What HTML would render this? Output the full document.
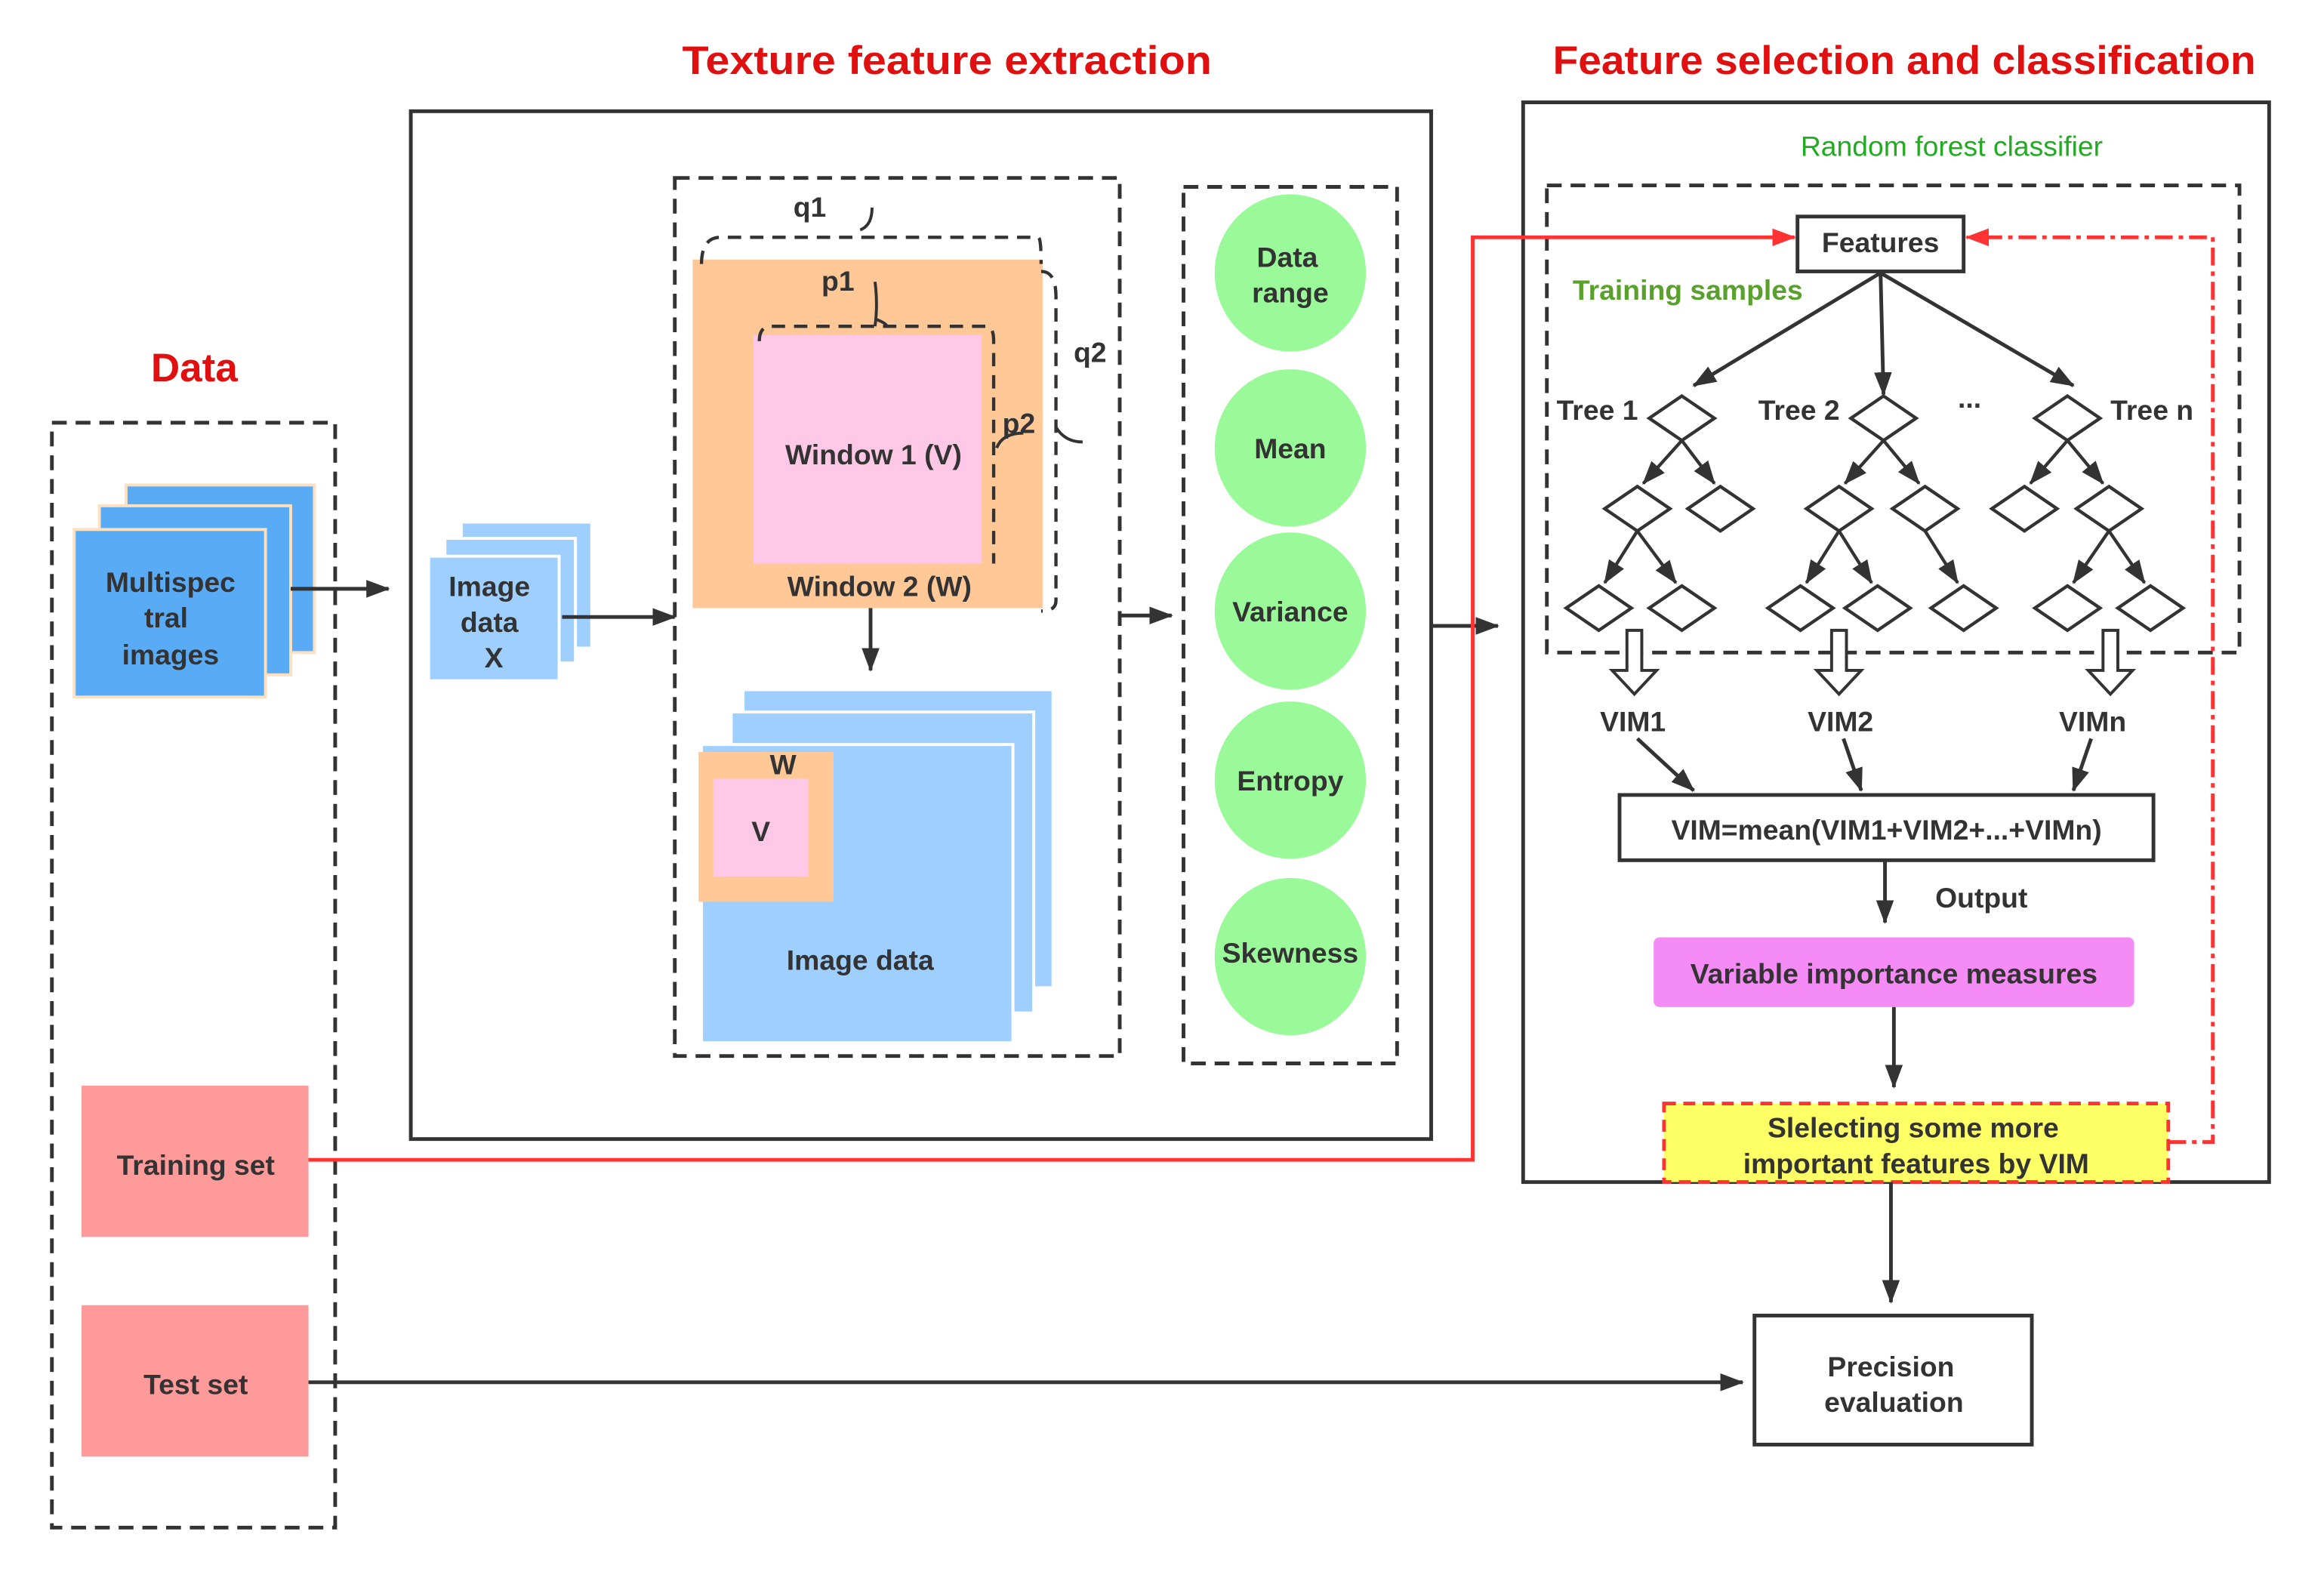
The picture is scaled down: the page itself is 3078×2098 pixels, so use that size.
<!DOCTYPE html>
<html><head><meta charset="utf-8"><style>
html,body{margin:0;padding:0;background:#fff;}
svg{display:block;}
text{font-family:"Liberation Sans","DejaVu Sans",sans-serif;}
.b{font-weight:bold;fill:#333;font-size:19px;}
</style></head><body>
<svg width="3078" height="2098" viewBox="0 0 1567 1068" preserveAspectRatio="none" xmlns="http://www.w3.org/2000/svg">
<defs>
<marker id="ar" viewBox="0 0 16 12" refX="15" refY="6" markerWidth="16" markerHeight="12" orient="auto" markerUnits="userSpaceOnUse"><path d="M0,0 L16,6 L0,12 z" fill="#333"/></marker>
<marker id="arr" viewBox="0 0 16 12" refX="15" refY="6" markerWidth="16" markerHeight="12" orient="auto" markerUnits="userSpaceOnUse"><path d="M0,0 L16,6 L0,12 z" fill="#f33"/></marker>
</defs>
<text x="460" y="50" textLength="357" lengthAdjust="spacingAndGlyphs" font-size="27" font-weight="bold" fill="#e01010">Texture feature extraction</text>
<text x="1047" y="50" textLength="474" lengthAdjust="spacingAndGlyphs" font-size="27" font-weight="bold" fill="#e01010">Feature selection and classification</text>
<text x="131" y="257" text-anchor="middle" font-size="27" font-weight="bold" fill="#e01010">Data</text>

<rect x="35" y="285" width="191" height="745" fill="none" stroke="#333" stroke-width="2.5" stroke-dasharray="10,6"/>
<rect x="85" y="327" width="127" height="113" fill="#5aabf5" stroke="#fde0c0" stroke-width="2"/>
<rect x="67" y="341" width="129" height="114" fill="#5aabf5" stroke="#fde0c0" stroke-width="2"/>
<rect x="50" y="357" width="129" height="113" fill="#5aabf5" stroke="#fde0c0" stroke-width="2"/>
<text class="b" x="115" y="399" text-anchor="middle">Multispec</text>
<text class="b" x="112" y="423" text-anchor="middle">tral</text>
<text class="b" x="115" y="448" text-anchor="middle">images</text>
<line x1="196" y1="397" x2="262" y2="397" stroke="#333" stroke-width="2.5" marker-end="url(#ar)"/>
<rect x="55" y="732" width="153" height="102" fill="#ff9a9a"/>
<text class="b" x="132" y="792" text-anchor="middle">Training set</text>
<rect x="55" y="880" width="153" height="102" fill="#ff9a9a"/>
<text class="b" x="132" y="940" text-anchor="middle">Test set</text>

<rect x="277" y="75" width="688" height="693" fill="none" stroke="#333" stroke-width="2.5"/>
<rect x="311" y="352" width="88" height="85" fill="#9ecfff" stroke="#fff" stroke-width="2"/>
<rect x="300" y="363" width="88" height="84" fill="#9ecfff" stroke="#fff" stroke-width="2"/>
<rect x="289" y="375" width="88" height="84" fill="#9ecfff" stroke="#fff" stroke-width="2"/>
<text class="b" x="330" y="402" text-anchor="middle">Image</text>
<text class="b" x="330" y="426" text-anchor="middle">data</text>
<text class="b" x="333" y="450" text-anchor="middle">X</text>
<line x1="379" y1="416" x2="455" y2="416" stroke="#333" stroke-width="2.5" marker-end="url(#ar)"/>
<rect x="455" y="120" width="300" height="592" fill="none" stroke="#333" stroke-width="2.5" stroke-dasharray="10,6"/>
<rect x="467" y="175" width="236" height="235" fill="#ffc896"/>
<rect x="508" y="226" width="154" height="154" fill="#ffc8e6"/>
<text class="b" x="589" y="313" text-anchor="middle">Window 1  (V)</text>
<text class="b" x="593" y="402" text-anchor="middle">Window 2  (W)</text>
<g fill="none" stroke="#333" stroke-width="2.2" stroke-dasharray="9,6">
<path d="M473,178 Q473,160 486,160 L700,160 Q702,160 702,178"/>
<path d="M512,230 Q512,220 520,220 L665,220 Q670,220 670,230 L670,380"/>
<path d="M702,183 Q712,183 712,200 L712,405 Q712,412 702,412"/>
</g>
<path d="M580,155 Q588,152 588,140" fill="none" stroke="#333" stroke-width="2"/>
<path d="M590,220 Q592,205 590,190 M590,215 Q598,218 598,220" fill="none" stroke="#333" stroke-width="2"/>
<path d="M712,288 Q718,298 730,298" fill="none" stroke="#333" stroke-width="2"/>
<path d="M672,302 Q676,292 690,292" fill="none" stroke="#333" stroke-width="2"/>
<text class="b" x="546" y="146" text-anchor="middle">q1</text>
<text class="b" x="565" y="196" text-anchor="middle">p1</text>
<text class="b" x="735" y="244" text-anchor="middle">q2</text>
<text class="b" x="687" y="292" text-anchor="middle">p2</text>
<line x1="587" y1="410" x2="587" y2="452" stroke="#333" stroke-width="2.5" marker-end="url(#ar)"/>
<rect x="501" y="465" width="209" height="201" fill="#9ecfff" stroke="#fff" stroke-width="2"/>
<rect x="493" y="480" width="204" height="203" fill="#9ecfff" stroke="#fff" stroke-width="2"/>
<rect x="473" y="502" width="210" height="201" fill="#9ecfff" stroke="#fff" stroke-width="2"/>
<rect x="471" y="507" width="91" height="101" fill="#ffc896"/>
<rect x="481" y="525" width="64" height="66" fill="#ffc8e6"/>
<text class="b" x="528" y="522" text-anchor="middle">W</text>
<text class="b" x="513" y="567" text-anchor="middle">V</text>
<text class="b" x="580" y="654" text-anchor="middle">Image data</text>
<line x1="755" y1="415" x2="790" y2="415" stroke="#333" stroke-width="2.5" marker-end="url(#ar)"/>
<rect x="798" y="126" width="144" height="591" fill="none" stroke="#333" stroke-width="2.5" stroke-dasharray="10,6"/>
<g fill="#9afa9a">
<ellipse cx="870" cy="184" rx="51" ry="53"/>
<ellipse cx="870" cy="302" rx="51" ry="53"/>
<ellipse cx="870" cy="412" rx="51" ry="53"/>
<ellipse cx="870" cy="526" rx="51" ry="53"/>
<ellipse cx="870" cy="645" rx="51" ry="53"/>
</g>
<text class="b" x="868" y="180" text-anchor="middle">Data</text>
<text class="b" x="870" y="204" text-anchor="middle">range</text>
<text class="b" x="870" y="309" text-anchor="middle">Mean</text>
<text class="b" x="870" y="419" text-anchor="middle">Variance</text>
<text class="b" x="870" y="533" text-anchor="middle">Entropy</text>
<text class="b" x="870" y="649" text-anchor="middle">Skewness</text>
<line x1="965" y1="422" x2="1010" y2="422" stroke="#333" stroke-width="2.5" marker-end="url(#ar)"/>

<rect x="1027" y="69" width="503" height="728" fill="none" stroke="#333" stroke-width="2.5"/>
<text x="1316" y="105" text-anchor="middle" font-size="19" fill="#22aa22">Random forest classifier</text>
<rect x="1043" y="125" width="467" height="315" fill="none" stroke="#333" stroke-width="2.5" stroke-dasharray="10,6"/>
<polyline points="208,782 993,782 993,160 1210,160" fill="none" stroke="#f33" stroke-width="2.5" marker-end="url(#arr)"/>
<polyline points="1462,770 1492,770 1492,160 1326,160" fill="none" stroke="#f33" stroke-width="2.5" stroke-dasharray="12,4,3,4" marker-end="url(#arr)"/>
<rect x="1212" y="146" width="112" height="37" fill="#fff" stroke="#333" stroke-width="2.5"/>
<text class="b" x="1268" y="170" text-anchor="middle">Features</text>
<text x="1138" y="202" text-anchor="middle" font-size="19" font-weight="bold" fill="#5aa02c">Training samples</text>
<g stroke="#333" stroke-width="2.5">
<line x1="1268" y1="184" x2="1142" y2="260" marker-end="url(#ar)"/>
<line x1="1268" y1="184" x2="1270" y2="266" marker-end="url(#ar)"/>
<line x1="1268" y1="184" x2="1398" y2="260" marker-end="url(#ar)"/>
</g>
<text class="b" x="1077" y="283" text-anchor="middle">Tree 1</text>
<text class="b" x="1213" y="283" text-anchor="middle">Tree 2</text>
<text class="b" x="1328" y="275" text-anchor="middle">...</text>
<text class="b" x="1451" y="283" text-anchor="middle">Tree n</text>
<g fill="#fff" stroke="#333" stroke-width="2.2">
<path d="M1134,267 L1156,282 L1134,297 L1112,282 Z"/>
<path d="M1104,328 L1126,343 L1104,358 L1082,343 Z"/>
<path d="M1160,328 L1182,343 L1160,358 L1138,343 Z"/>
<path d="M1078,395 L1100,410 L1078,425 L1056,410 Z"/>
<path d="M1134,395 L1156,410 L1134,425 L1112,410 Z"/>
<path d="M1270,267 L1292,282 L1270,297 L1248,282 Z"/>
<path d="M1240,328 L1262,343 L1240,358 L1218,343 Z"/>
<path d="M1298,328 L1320,343 L1298,358 L1276,343 Z"/>
<path d="M1214,395 L1236,410 L1214,425 L1192,410 Z"/>
<path d="M1266,395 L1288,410 L1266,425 L1244,410 Z"/>
<path d="M1324,395 L1346,410 L1324,425 L1302,410 Z"/>
<path d="M1394,267 L1416,282 L1394,297 L1372,282 Z"/>
<path d="M1365,328 L1387,343 L1365,358 L1343,343 Z"/>
<path d="M1422,328 L1444,343 L1422,358 L1400,343 Z"/>
<path d="M1394,395 L1416,410 L1394,425 L1372,410 Z"/>
<path d="M1450,395 L1472,410 L1450,425 L1428,410 Z"/>
</g>
<g stroke="#333" stroke-width="2.2" fill="none">
<line x1="1134" y1="297" x2="1108" y2="326" marker-end="url(#ar)"/>
<line x1="1134" y1="297" x2="1156" y2="326" marker-end="url(#ar)"/>
<line x1="1104" y1="358" x2="1082" y2="393" marker-end="url(#ar)"/>
<line x1="1104" y1="358" x2="1130" y2="393" marker-end="url(#ar)"/>
<line x1="1270" y1="297" x2="1244" y2="326" marker-end="url(#ar)"/>
<line x1="1270" y1="297" x2="1294" y2="326" marker-end="url(#ar)"/>
<line x1="1240" y1="358" x2="1218" y2="393" marker-end="url(#ar)"/>
<line x1="1240" y1="358" x2="1262" y2="393" marker-end="url(#ar)"/>
<line x1="1298" y1="358" x2="1320" y2="393" marker-end="url(#ar)"/>
<line x1="1394" y1="297" x2="1369" y2="326" marker-end="url(#ar)"/>
<line x1="1394" y1="297" x2="1418" y2="326" marker-end="url(#ar)"/>
<line x1="1422" y1="358" x2="1398" y2="393" marker-end="url(#ar)"/>
<line x1="1422" y1="358" x2="1446" y2="393" marker-end="url(#ar)"/>
</g>
<g fill="#fff" stroke="#333" stroke-width="2">
<path d="M1097,425 L1107,425 L1107,452 L1117,452 L1102,468 L1087,452 L1097,452 Z"/>
<path d="M1235,425 L1245,425 L1245,452 L1255,452 L1240,468 L1225,452 L1235,452 Z"/>
<path d="M1418,425 L1428,425 L1428,452 L1438,452 L1423,468 L1408,452 L1418,452 Z"/>
</g>
<text class="b" x="1101" y="493" text-anchor="middle">VIM1</text>
<text class="b" x="1241" y="493" text-anchor="middle">VIM2</text>
<text class="b" x="1411" y="493" text-anchor="middle">VIMn</text>
<g stroke="#333" stroke-width="2.5">
<line x1="1104" y1="498" x2="1142" y2="533" marker-end="url(#ar)"/>
<line x1="1243" y1="498" x2="1255" y2="533" marker-end="url(#ar)"/>
<line x1="1410" y1="498" x2="1398" y2="533" marker-end="url(#ar)"/>
</g>
<rect x="1092" y="536" width="360" height="44" fill="#fff" stroke="#333" stroke-width="2.5"/>
<text class="b" x="1272" y="566" text-anchor="middle">VIM=mean(VIM1+VIM2+...+VIMn)</text>
<line x1="1271" y1="580" x2="1271" y2="622" stroke="#333" stroke-width="2.5" marker-end="url(#ar)"/>
<text class="b" x="1336" y="612" text-anchor="middle">Output</text>
<rect x="1115" y="632" width="324" height="47" rx="4" fill="#f58cf5"/>
<text class="b" x="1277" y="663" text-anchor="middle">Variable importance measures</text>
<line x1="1277" y1="679" x2="1277" y2="733" stroke="#333" stroke-width="2.5" marker-end="url(#ar)"/>
<rect x="1122" y="744" width="340" height="53" fill="#ffff66" stroke="#f33" stroke-width="2.5" stroke-dasharray="8,5"/>
<text class="b" x="1290" y="767" text-anchor="middle">Slelecting some more</text>
<text class="b" x="1292" y="791" text-anchor="middle">important features by VIM</text>
<line x1="1275" y1="797" x2="1275" y2="878" stroke="#333" stroke-width="2.5" marker-end="url(#ar)"/>
<rect x="1183" y="887" width="187" height="87" fill="#fff" stroke="#333" stroke-width="2.5"/>
<text class="b" x="1275" y="928" text-anchor="middle">Precision</text>
<text class="b" x="1277" y="952" text-anchor="middle">evaluation</text>
<line x1="208" y1="932" x2="1175" y2="932" stroke="#333" stroke-width="2.5" marker-end="url(#ar)"/>
</svg>
</body></html>
